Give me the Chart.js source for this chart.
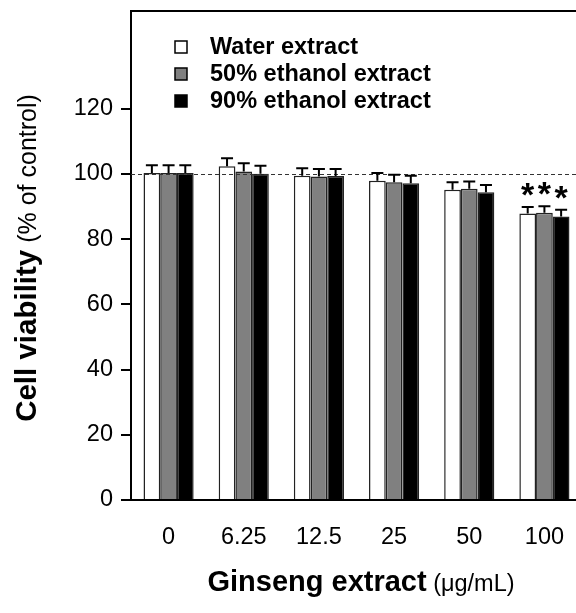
<!DOCTYPE html>
<html>
<head>
<meta charset="utf-8">
<script src="https://cdn.jsdelivr.net/npm/chart.js@4"></script>
<style>
  html, body { margin: 0; padding: 0; background: #fff; overflow: hidden; }
  #wrap { width: 586px; height: 613px; }
</style>
</head>
<body>
<div id="wrap"><canvas id="myChart" width="586" height="613"></canvas></div>
<script>
// concentrations (ug/mL)
const categories = ['0', '6.25', '12.5', '25', '50', '100'];
const seriesNames = ['Water extract', '50% ethanol extract', '90% ethanol extract'];
// mean cell viability (% of control)
const water = [100.3, 102.4, 99.5, 97.9, 95.2, 87.9];
const eth50 = [100.3, 100.8, 99.2, 97.5, 95.5, 88.1];
const eth90 = [100.3, 100.1, 99.4, 97.2, 94.4, 87.0];
// error (SD)
const waterErr = [2.4, 2.4, 2.3, 2.4, 2.3, 2.0];
const eth50Err = [2.4, 2.5, 2.3, 2.3, 2.2, 2.0];
const eth90Err = [2.4, 2.4, 2.1, 2.3, 2.2, 2.0];
// significance marks (*)
const signif = [false, false, false, false, false, true];
const yTicks = [0, 20, 40, 60, 80, 100, 120];

const fillColors = ['#ffffff', '#808080', '#000000'];
const FONT = '"Liberation Sans", Arial, sans-serif';

// error bars, asterisks, dashed 100% line, legend, axis titles, top border
const extras = {
    id: 'extras',
    afterDatasetsDraw(chart) {
        const ctx = chart.ctx;
        const y = chart.scales.y;
        const area = chart.chartArea;
        const errs = [waterErr, eth50Err, eth90Err];

        // dashed control line
        ctx.save();
        ctx.strokeStyle = '#333';
        ctx.lineWidth = 1;
        ctx.setLineDash([4, 3]);
        ctx.beginPath();
        ctx.moveTo(area.left, Math.round(y.getPixelForValue(100)) + 0.5);
        ctx.lineTo(area.right, Math.round(y.getPixelForValue(100)) + 0.5);
        ctx.stroke();
        ctx.restore();

        chart.data.datasets.forEach((ds, i) => {
            const meta = chart.getDatasetMeta(i);
            meta.data.forEach((bar, j) => {
                const top = y.getPixelForValue(ds.data[j]);
                const cap = y.getPixelForValue(ds.data[j] + errs[i][j]);
                ctx.save();
                ctx.strokeStyle = '#000';
                ctx.lineWidth = 2;
                ctx.beginPath();
                ctx.moveTo(bar.x, top);
                ctx.lineTo(bar.x, cap);
                ctx.moveTo(bar.x - 6, cap);
                ctx.lineTo(bar.x + 6, cap);
                ctx.stroke();
                if (signif[j]) {
                    ctx.fillStyle = '#000';
                    ctx.font = 'bold 34px ' + FONT;
                    ctx.textAlign = 'center';
                    ctx.textBaseline = 'alphabetic';
                    ctx.fillText('*', bar.x, cap - 1);
                }
                ctx.restore();
            });
        });

        // top border
        ctx.save();
        ctx.strokeStyle = '#000';
        ctx.lineWidth = 2;
        ctx.beginPath();
        ctx.moveTo(area.left - 1, area.top);
        ctx.lineTo(area.right, area.top);
        ctx.lineTo(area.right, area.bottom);
        ctx.stroke();
        ctx.restore();

        // legend
        ctx.save();
        ctx.font = 'bold 23.5px ' + FONT;
        ctx.textBaseline = 'alphabetic';
        seriesNames.forEach((name, i) => {
            const base = 54 + i * 27;
            ctx.fillStyle = fillColors[i];
            ctx.fillRect(175, base - 13, 12, 12);
            ctx.strokeStyle = '#000';
            ctx.lineWidth = 1.5;
            ctx.strokeRect(175, base - 13, 12, 12);
            ctx.fillStyle = '#000';
            ctx.fillText(name, 210, base);
        });
        ctx.restore();

        // x title
        ctx.save();
        ctx.fillStyle = '#000';
        ctx.textBaseline = 'alphabetic';
        const xb = 'Ginseng extract', xr = ' (\u03BCg/mL)';
        ctx.font = 'bold 29px ' + FONT;
        const wb = ctx.measureText(xb).width;
        ctx.font = '23.5px ' + FONT;
        const wr = ctx.measureText(xr).width;
        let x0 = 361 - (wb + wr) / 2;
        ctx.font = 'bold 29px ' + FONT;
        ctx.fillText(xb, x0, 591);
        ctx.font = '23.5px ' + FONT;
        ctx.fillText(xr, x0 + wb, 591);
        ctx.restore();

        // y title
        ctx.save();
        ctx.fillStyle = '#000';
        ctx.translate(36, 258);
        ctx.rotate(-Math.PI / 2);
        const yb = 'Cell viability', yr = ' (% of control)';
        ctx.font = 'bold 29.5px ' + FONT;
        const ywb = ctx.measureText(yb).width;
        ctx.font = '25px ' + FONT;
        const ywr = ctx.measureText(yr).width;
        const y0 = -(ywb + ywr) / 2;
        ctx.font = 'bold 29.5px ' + FONT;
        ctx.fillText(yb, y0, 0);
        ctx.font = '25px ' + FONT;
        ctx.fillText(yr, y0 + ywb, 0);
        ctx.restore();
    }
};

const ctx = document.getElementById('myChart');
new Chart(ctx, {
    type: 'bar',
    data: {
        labels: categories,
        datasets: [water, eth50, eth90].map((d, i) => ({
            label: seriesNames[i],
            data: d,
            backgroundColor: fillColors[i],
            borderColor: '#222',
            borderWidth: 1.5,
            categoryPercentage: 0.667,
            barPercentage: 1.0
        }))
    },
    options: {
        responsive: false,
        animation: false,
        devicePixelRatio: 1,
        layout: { padding: { top: 11, right: 4, left: 0, bottom: 0 } },
        plugins: {
            legend: { display: false },
            tooltip: { enabled: false }
        },
        scales: {
            x: {
                afterFit(scale) { scale.height = 113; scale.paddingLeft = 0; scale.paddingRight = 0; },
                grid: { drawOnChartArea: false, drawTicks: false },
                border: { color: '#000', width: 2 },
                ticks: { color: '#000', padding: 23, font: { family: FONT, size: 23.5 } }
            },
            y: {
                min: 0,
                max: 150,
                afterFit(scale) { scale.width = 131; scale.paddingTop = 0; scale.paddingBottom = 0; },
                afterBuildTicks(scale) { scale.ticks = yTicks.map(v => ({ value: v })); },
                grid: { drawOnChartArea: false, tickLength: 10, color: '#000', lineWidth: 2 },
                border: { color: '#000', width: 2 },
                ticks: { color: '#000', padding: 8, font: { family: FONT, size: 23.5 } }
            }
        }
    },
    plugins: [extras]
});
</script>
</body>
</html>
